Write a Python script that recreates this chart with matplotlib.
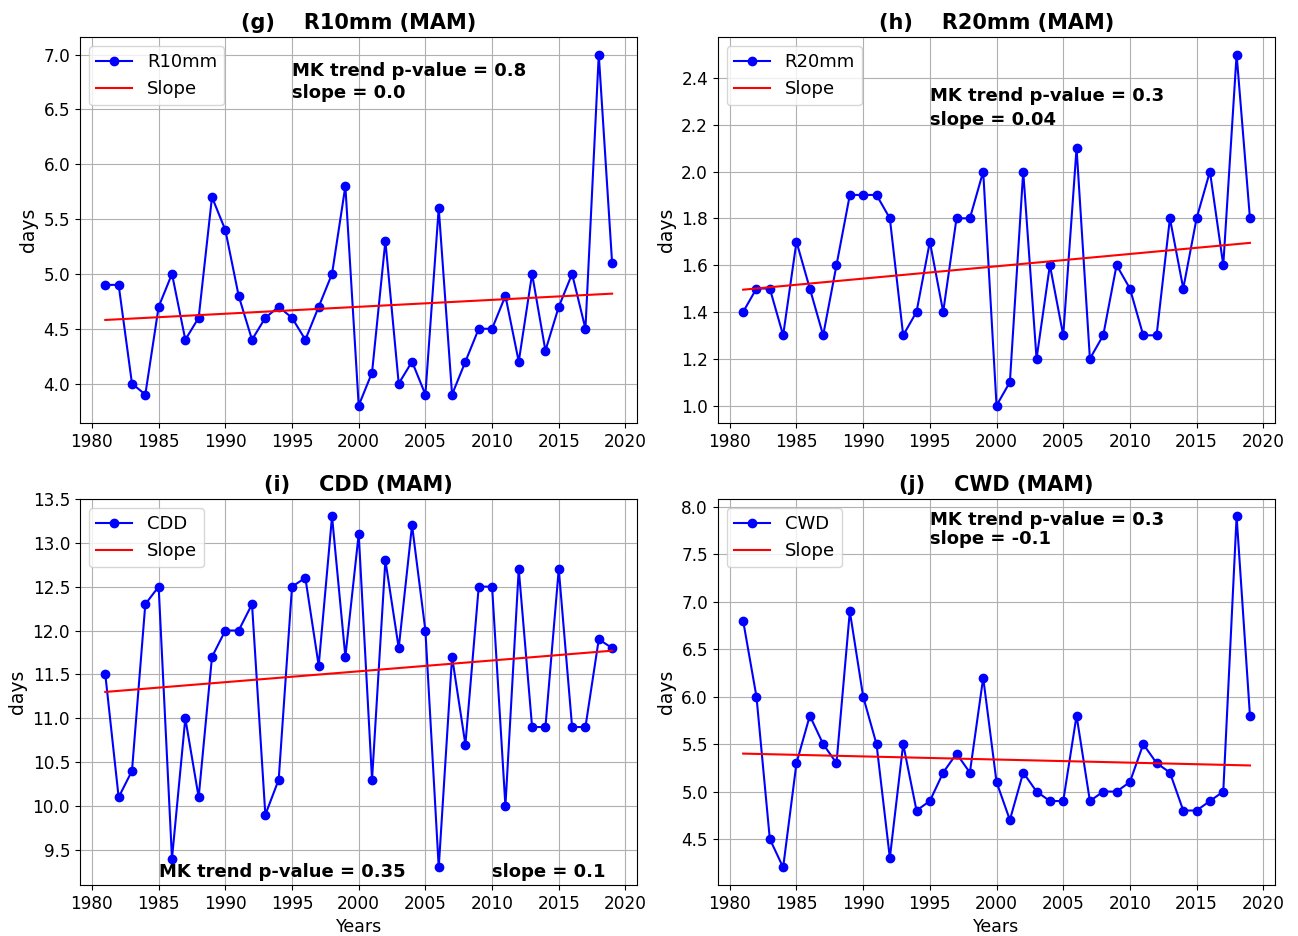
import matplotlib
matplotlib.use("Agg")
import matplotlib.pyplot as plt
import numpy as np

years = list(range(1981, 2020))

r10mm = [4.9, 4.9, 4.0, 3.9, 4.7, 5.0, 4.4, 4.6, 5.7, 5.4, 4.8, 4.4, 4.6, 4.7, 4.6,
         4.4, 4.7, 5.0, 5.8, 3.8, 4.1, 5.3, 4.0, 4.2, 3.9, 5.6, 3.9, 4.2, 4.5, 4.5,
         4.8, 4.2, 5.0, 4.3, 4.7, 5.0, 4.5, 7.0, 5.1]
r20mm = [1.4, 1.5, 1.5, 1.3, 1.7, 1.5, 1.3, 1.6, 1.9, 1.9, 1.9, 1.8, 1.3, 1.4, 1.7,
         1.4, 1.8, 1.8, 2.0, 1.0, 1.1, 2.0, 1.2, 1.6, 1.3, 2.1, 1.2, 1.3, 1.6, 1.5,
         1.3, 1.3, 1.8, 1.5, 1.8, 2.0, 1.6, 2.5, 1.8]
cdd = [11.5, 10.1, 10.4, 12.3, 12.5, 9.4, 11.0, 10.1, 11.7, 12.0, 12.0, 12.3, 9.9, 10.3, 12.5,
       12.6, 11.6, 13.3, 11.7, 13.1, 10.3, 12.8, 11.8, 13.2, 12.0, 9.3, 11.7, 10.7, 12.5, 12.5,
       10.0, 12.7, 10.9, 10.9, 12.7, 10.9, 10.9, 11.9, 11.8]
cwd = [6.8, 6.0, 4.5, 4.2, 5.3, 5.8, 5.5, 5.3, 6.9, 6.0, 5.5, 4.3, 5.5, 4.8, 4.9,
       5.2, 5.4, 5.2, 6.2, 5.1, 4.7, 5.2, 5.0, 4.9, 4.9, 5.8, 4.9, 5.0, 5.0, 5.1,
       5.5, 5.3, 5.2, 4.8, 4.8, 4.9, 5.0, 7.9, 5.8]

# trend line values at first and last year
trend_r10 = [4.58, 4.82]
trend_r20 = [1.495, 1.695]
trend_cdd = [11.30, 11.77]
trend_cwd = [5.40, 5.275]

titles = ["(g)    R10mm (MAM)", "(h)    R20mm (MAM)", "(i)    CDD (MAM)", "(j)    CWD (MAM)"]
names = ["R10mm", "R20mm", "CDD", "CWD"]
pvals = ["0.8", "0.3", "0.35", "0.3"]
slopes = ["0.0", "0.04", "0.1", "-0.1"]

fig = plt.figure(figsize=(12.98, 9.36), dpi=100)
lefts = [0.0616, 0.553]
w = 0.4295
bottoms = [0.548, 0.0545]
h = 0.4125

series = [r10mm, r20mm, cdd, cwd]
trends = [trend_r10, trend_r20, trend_cdd, trend_cwd]
for k in range(4):
    row, col = divmod(k, 2)
    ax = fig.add_axes([lefts[col], bottoms[row], w, h])
    ax.plot(years, series[k], color="blue", marker="o", markersize=6, linewidth=1.5, label=names[k])
    ax.plot([years[0], years[-1]], trends[k], color="red", linewidth=1.5, label="Slope")
    ax.grid(True, color="#b0b0b0", linewidth=0.8)
    ax.set_title(titles[k], fontsize=15, fontweight="bold")
    ax.set_ylabel("days", fontsize=13.5)
    if row == 1:
        ax.set_xlabel("Years", fontsize=12.5)
    ax.tick_params(labelsize=12.2)
    ax.legend(loc="upper left", fontsize=13)
    ptxt = "MK trend p-value = " + pvals[k]
    stxt = "slope = " + slopes[k]
    fs = 13
    if k == 0:
        ax.text(1995, 6.8, ptxt, fontsize=fs, fontweight="bold")
        ax.text(1995, 6.6, stxt, fontsize=fs, fontweight="bold")
    elif k == 1:
        ax.text(1995, 2.3, ptxt, fontsize=fs, fontweight="bold")
        ax.text(1995, 2.2, stxt, fontsize=fs, fontweight="bold")
    elif k == 2:
        ax.text(1985, 9.19, ptxt, fontsize=fs, fontweight="bold")
        ax.text(2010, 9.19, stxt, fontsize=fs, fontweight="bold")
    else:
        ax.text(1995, 7.81, ptxt, fontsize=fs, fontweight="bold")
        ax.text(1995, 7.61, stxt, fontsize=fs, fontweight="bold")

fig.savefig("out.png", dpi=100)
